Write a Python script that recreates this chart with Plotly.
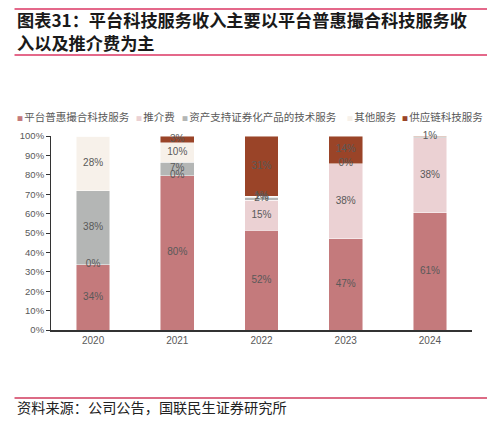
import numpy as np
import plotly.graph_objects as go

years = ['2020', '2021', '2022', '2023', '2024']
names = ['平台普惠撮合科技服务', '推介费', '资产支持证券化产品的技术服务', '其他服务', '供应链科技服务']
platform = [33.7, 79.5, 51.5, 47.0, 60.5]
referral = [0.0, 0.0, 15.5, 38.6, 38.5]
abs_tech = [38.0, 7.0, 1.5, 0.0, 0.5]
other = [28.3, 10.0, 0.5, 0.0, 0.0]
supply = [0.0, 3.5, 31.0, 14.4, 0.5]

platform_lbl = ['34%', '80%', '52%', '47%', '61%']
referral_lbl = ['0%', '0%', '15%', '38%', '38%']
abs_lbl = ['38%', '7%', '2%', '0%', '']
other_lbl = ['28%', '10%', '1%', '', '']
supply_lbl = ['', '3%', '31%', '14%', '1%']

title_lines = ['图表31：平台科技服务收入主要以平台普惠撮合科技服务收', '入以及推介费为主']
source_text = '资料来源：公司公告，国联民生证券研究所'

colors = ['#C47A7C', '#EBD1D3', '#B4B6B5', '#F7F1EA', '#9A4428']
yticks = [0, 10, 20, 30, 40, 50, 60, 70, 80, 90, 100]
ytick_text = ['0%', '10%', '20%', '30%', '40%', '50%', '60%', '70%', '80%', '90%', '100%']

series = [platform, referral, abs_tech, other, supply]
labels = [platform_lbl, referral_lbl, abs_lbl, other_lbl, supply_lbl]

# page has an 8px body margin; figure is placed at (8, 8)
OFF = 8
W, H = 479, 408
# plot area in page pixels
PL, PR, PT, PB = 45, 472, 136, 330
L, R, T, B = PL - OFF, PR - OFF, PT - OFF, PB - OFF


def px_x(p):
    return (p - PL) / (PR - PL)


def px_y(p):
    return (PB - p) / (PB - PT)


fig = go.Figure()
for nm, vals, col in zip(names, series, colors):
    fig.add_trace(go.Bar(
        x=years, y=vals, name=nm,
        marker=dict(color=col, line=dict(color='rgba(255,255,255,0.6)', width=0.8)),
        width=0.4, showlegend=False, hoverinfo='skip'))

# data labels at segment midpoints
arr = np.array(series, dtype=float)
cum = np.cumsum(arr, axis=0)
mids = cum - arr / 2
lx, ly, lt = [], [], []
for i in range(len(series)):
    for j, yr in enumerate(years):
        if labels[i][j]:
            lx.append(yr)
            ly.append(mids[i][j])
            lt.append(labels[i][j])
fig.add_trace(go.Scatter(
    x=lx, y=ly, text=lt, mode='text', showlegend=False, hoverinfo='skip',
    textfont=dict(family='Liberation Sans, Arial', size=10, color='#595959'), cliponaxis=False))

annotations = []
# legend row
leg_x = [6, 129, 176, 343, 399]
for nm, col, xp in zip(names, colors, leg_x):
    annotations.append(dict(
        x=px_x(max(xp, OFF)), y=px_y(117), xref='paper', yref='paper', xanchor='left', yanchor='middle',
        showarrow=False,
        text=f"<span style='font-size:6px;color:{col}'>■ </span>{nm}",
        font=dict(family='Noto Sans CJK SC', size=10.5, color='#595959')))

for line_txt, yc in zip(title_lines, [20, 43]):
    annotations.append(dict(
        x=px_x(OFF), y=px_y(yc), xref='paper', yref='paper', xanchor='left', yanchor='middle',
        showarrow=False, align='left',
        text=f'<b>{line_txt}</b>',
        font=dict(family='Noto Sans CJK SC', size=17.2, color='#1a1a1a')))
annotations.append(dict(
    x=px_x(OFF), y=px_y(407), xref='paper', yref='paper', xanchor='left', yanchor='middle',
    showarrow=False, align='left',
    text=source_text,
    font=dict(family='Noto Sans CJK SC', size=14.2, color='#222222')))

shapes = [
    dict(type='line', xref='paper', yref='paper', x0=px_x(OFF), x1=px_x(490), y0=px_y(9), y1=px_y(9),
         line=dict(color='#E4688A', width=2)),
    dict(type='line', xref='paper', yref='paper', x0=px_x(OFF), x1=px_x(490), y0=px_y(55), y1=px_y(55),
         line=dict(color='#E4688A', width=2)),
    dict(type='line', xref='paper', yref='paper', x0=px_x(OFF), x1=px_x(490), y0=px_y(398), y1=px_y(398),
         line=dict(color='#D03A5C', width=1.5)),
]

fig.update_layout(
    width=W, height=H, barmode='stack',
    margin=dict(l=L, r=W - R, t=T, b=H - B),
    paper_bgcolor='white', plot_bgcolor='white',
    annotations=annotations, shapes=shapes,
    xaxis=dict(type='category', range=[-0.5, 4.5], showline=True, linecolor='#333333', linewidth=1.5,
               ticks='', tickfont=dict(family='Liberation Sans, Arial', size=10, color='#595959'),
               showgrid=False, zeroline=False),
    yaxis=dict(range=[0, 100], tickvals=yticks, ticktext=ytick_text, showline=True, linecolor='#333333',
               linewidth=1, ticks='outside', ticklen=4, tickcolor='#333333',
               tickfont=dict(family='Liberation Sans, Arial', size=9.5, color='#595959'),
               showgrid=False, zeroline=False),
)

fig.write_html('out.html')
